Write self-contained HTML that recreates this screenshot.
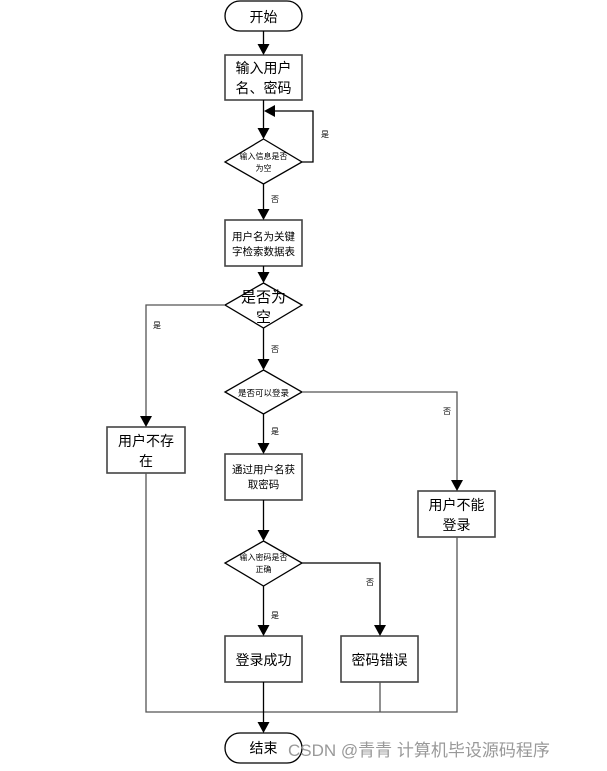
<!DOCTYPE html>
<html><head><meta charset="utf-8"><style>
html,body{margin:0;padding:0;background:#fff;}
svg{display:block;}
text{font-family:"Liberation Sans","Noto Sans CJK SC",sans-serif;fill:#000;}
</style></head><body>
<svg width="607" height="771" viewBox="0 0 607 771" xmlns="http://www.w3.org/2000/svg">
<defs>
<marker id="a" markerWidth="10" markerHeight="10" refX="5" refY="9" orient="auto" markerUnits="userSpaceOnUse">
</marker>
</defs>
<g stroke="#000" stroke-width="1.3" fill="none">
<!-- start -->
<rect x="225" y="1" width="77" height="30" rx="15" fill="#fff"/>
<line x1="263.5" y1="31" x2="263.5" y2="44"/>
<rect x="225" y="55" width="77" height="45" stroke="#444" stroke-width="1.6"/>
<line x1="263.5" y1="100" x2="263.5" y2="128"/>
<polygon points="263.5,139 302,162 263.5,184 225,162"/>
<polyline points="302,162 313,162 313,111 275,111"/>
<line x1="263.5" y1="184" x2="263.5" y2="209"/>
<rect x="225" y="220" width="77" height="46" stroke="#444" stroke-width="1.6"/>
<line x1="263.5" y1="266" x2="263.5" y2="272"/>
<polygon points="263.5,283 302,305 263.5,328 225,305"/>
<polyline points="225,305 146,305 146,416" stroke="#555"/>
<rect x="107" y="427" width="78" height="46" stroke="#444" stroke-width="1.6"/>
<line x1="263.5" y1="328" x2="263.5" y2="359"/>
<polygon points="263.5,370 302,392 263.5,414 225,392"/>
<polyline points="302,392 457,392 457,480" stroke="#555"/>
<rect x="418" y="491" width="77" height="46" stroke="#444" stroke-width="1.6"/>
<line x1="263.5" y1="414" x2="263.5" y2="443"/>
<rect x="225" y="454" width="77" height="46" stroke="#444" stroke-width="1.6"/>
<line x1="263.5" y1="500" x2="263.5" y2="530"/>
<polygon points="263.5,541 302,563 263.5,586 225,563"/>
<polyline points="302,563 380,563 380,625"/>
<line x1="263.5" y1="586" x2="263.5" y2="625"/>
<rect x="225" y="636" width="77" height="46" stroke="#444" stroke-width="1.6"/>
<rect x="341" y="636" width="77" height="46" stroke="#444" stroke-width="1.6"/>
<polyline points="146,473 146,712 457,712 457,537" stroke="#555"/>
<line x1="380" y1="682" x2="380" y2="712" stroke="#555"/>
<line x1="263.5" y1="682" x2="263.5" y2="722"/>
<rect x="225" y="733" width="77" height="30" rx="15"/>
</g>
<g fill="#000">
<polygon points="257.5,44 269.5,44 263.5,55"/>
<polygon points="257.5,128 269.5,128 263.5,139"/>
<polygon points="275,105 275,117 264,111"/>
<polygon points="257.5,209 269.5,209 263.5,220"/>
<polygon points="257.5,272 269.5,272 263.5,283"/>
<polygon points="140,416 152,416 146,427"/>
<polygon points="257.5,359 269.5,359 263.5,370"/>
<polygon points="451,480 463,480 457,491"/>
<polygon points="257.5,443 269.5,443 263.5,454"/>
<polygon points="257.5,530 269.5,530 263.5,541"/>
<polygon points="374,625 386,625 380,636"/>
<polygon points="257.5,625 269.5,625 263.5,636"/>
<polygon points="257.5,722 269.5,722 263.5,733"/>
</g>
<g text-anchor="middle">
<text x="263.5" y="22" font-size="14">开始</text>
<text x="263.5" y="73" font-size="14">输入用户</text>
<text x="263.5" y="93" font-size="14">名、密码</text>
<text x="263.5" y="159" font-size="8">输入信息是否</text>
<text x="263.5" y="171" font-size="8">为空</text>
<text x="263.5" y="240" font-size="10.5">用户名为关键</text>
<text x="263.5" y="255" font-size="10.5">字检索数据表</text>
<text x="263.5" y="302" font-size="15">是否为</text>
<text x="263.5" y="322" font-size="15">空</text>
<text x="263.5" y="396" font-size="8.5">是否可以登录</text>
<text x="146" y="446" font-size="14">用户不存</text>
<text x="146" y="466" font-size="14">在</text>
<text x="263.5" y="473" font-size="10.5">通过用户名获</text>
<text x="263.5" y="488" font-size="10.5">取密码</text>
<text x="456.5" y="510" font-size="14">用户不能</text>
<text x="456.5" y="530" font-size="14">登录</text>
<text x="263.5" y="560" font-size="8">输入密码是否</text>
<text x="263.5" y="572" font-size="8">正确</text>
<text x="263.5" y="665" font-size="14">登录成功</text>
<text x="379.5" y="665" font-size="14">密码错误</text>
<text x="263.5" y="753" font-size="14">结束</text>
</g>
<g font-size="8">
<text x="321" y="137">是</text>
<text x="271" y="202">否</text>
<text x="153" y="328">是</text>
<text x="271" y="352">否</text>
<text x="443" y="414">否</text>
<text x="271" y="434">是</text>
<text x="366" y="585">否</text>
<text x="271" y="618">是</text>
</g>
<text x="288" y="756" font-size="17" style="fill:#999">CSDN @青青  计算机毕设源码程序</text>
</svg>
</body></html>
